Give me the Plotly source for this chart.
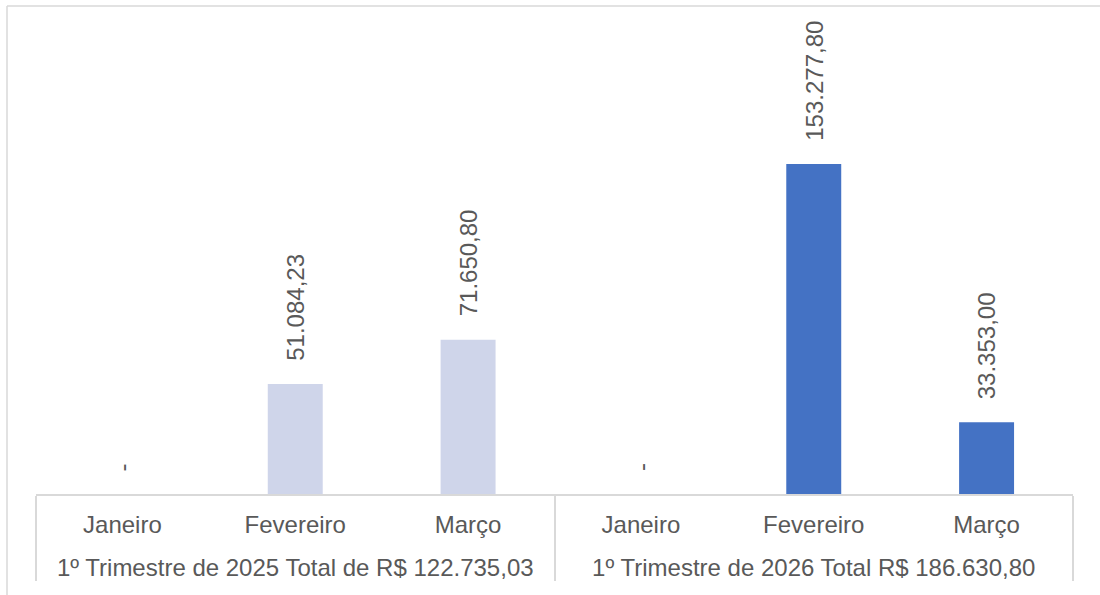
import plotly.graph_objects as go

# ---- data ----
groups = ["1º Trimestre de 2025 Total de R$ 122.735,03",
          "1º Trimestre de 2026 Total R$ 186.630,80"]
months = ["Janeiro", "Fevereiro", "Março"]
values_2025 = [0, 51084.23, 71650.80]
values_2026 = [0, 153277.80, 33353.00]
colors = ["#CFD5EA", "#4472C4"]


def fmt_br(v):
    if v == 0:
        return "-"
    s = f"{v:,.2f}"
    return s.replace(",", "X").replace(".", ",").replace("X", ".")


FONT = "Liberation Sans, Arial, sans-serif"
TXT = "#595959"
GRID = "#D9D9D9"
FS = 24

# padding spans make the first label row taller so the second row sits lower
PADSPAN = "<span style='font-size:44px'> </span>"

fig = go.Figure()
series = [values_2025, values_2026]
annotations = []
idx = 0
for g, vals, col in zip(groups, series, colors):
    fig.add_trace(go.Bar(
        x=[[g] * len(months), [PADSPAN + m + PADSPAN for m in months]],
        y=vals,
        marker=dict(color=col, line=dict(width=0)),
        width=0.318,
        showlegend=False,
        hoverinfo="skip",
    ))
    for v in vals:
        annotations.append(dict(
            x=idx, y=v, xref="x", yref="y",
            text=fmt_br(v), textangle=-90,
            showarrow=False, xanchor="center", yanchor="bottom",
            yshift=21,
            font=dict(family=FONT, size=FS, color=TXT),
        ))
        idx += 1

# plot area in pixels: x 36..1073, y 6..494
L, R, T, B = 36, 27, 6, 101
W, H = 1100, 595
pw = W - L - R
ph = H - T - B

def px_x(p):
    return (p - L) / pw

def px_y(p):
    return (H - B - p) / ph

shapes = [
    dict(type="line", xref="paper", yref="paper",
         x0=px_x(7), x1=px_x(1100), y0=px_y(6), y1=px_y(6),
         line=dict(color=GRID, width=1.5)),
    dict(type="line", xref="paper", yref="paper",
         x0=px_x(7), x1=px_x(7), y0=px_y(6), y1=px_y(595),
         line=dict(color=GRID, width=1.5)),
]

fig.update_layout(
    width=W, height=H,
    margin=dict(l=L, r=R, t=T, b=B),
    paper_bgcolor="white", plot_bgcolor="white",
    barmode="overlay",
    font=dict(family=FONT, size=FS, color=TXT),
    xaxis=dict(
        type="multicategory",
        showline=True, linecolor=GRID, linewidth=1.5,
        showdividers=True, dividercolor=GRID, dividerwidth=1.5,
        ticks="", showgrid=False, zeroline=False,
        ticklabelstandoff=8,
        tickfont=dict(family=FONT, size=FS, color=TXT),
        range=[-0.5, 5.5],
    ),
    yaxis=dict(visible=False, range=[0, 226670], showgrid=False, zeroline=False),
    annotations=annotations,
    shapes=shapes,
)

fig.write_html(
    "out.html",
    config={"displayModeBar": False},
    post_script="document.body.style.margin='0';document.body.style.padding='0';"
                "document.body.style.overflow='hidden';",
)
